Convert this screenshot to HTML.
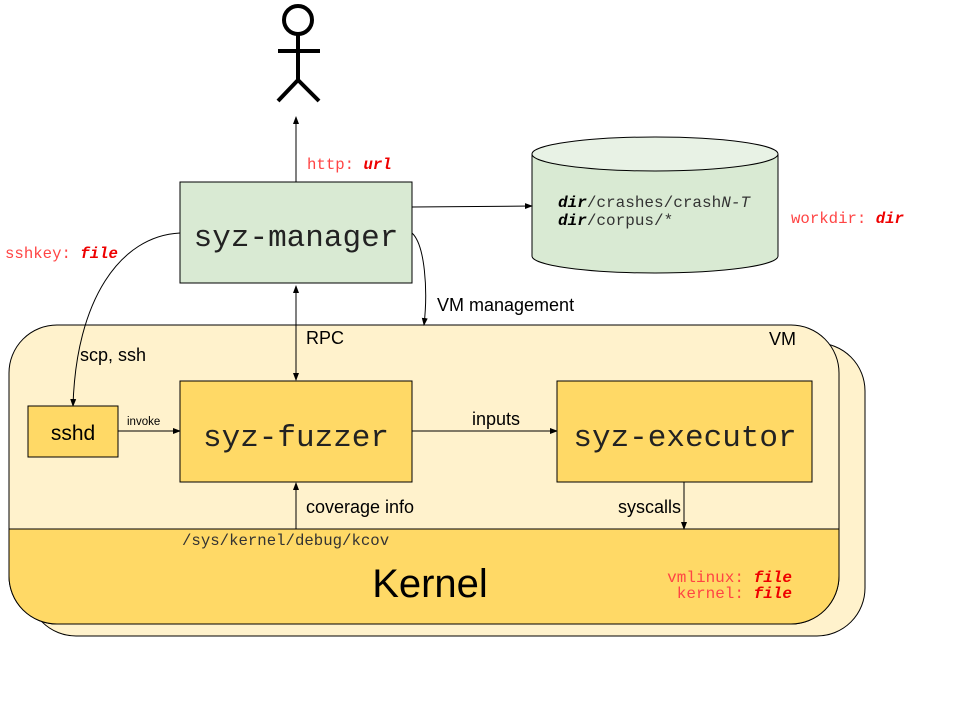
<!DOCTYPE html>
<html><head><meta charset="utf-8"><style>
html,body{margin:0;padding:0;background:#fff;}
svg{display:block;}
.m{font-family:"Liberation Mono",monospace;}
.s{font-family:"Liberation Sans",sans-serif;}
</style></head><body>
<svg width="960" height="720" viewBox="0 0 960 720" xmlns="http://www.w3.org/2000/svg">
<defs>
<marker id="a" markerWidth="8" markerHeight="8" refX="7" refY="4" orient="auto" markerUnits="userSpaceOnUse">
<path d="M0,1 L8,4 L0,7 z" fill="#000"/></marker>
<marker id="b" markerWidth="8" markerHeight="8" refX="1" refY="4" orient="auto" markerUnits="userSpaceOnUse">
<path d="M8,1 L0,4 L8,7 z" fill="#000"/></marker>
</defs>
<g stroke="#000" stroke-width="4" fill="none">
<circle cx="298" cy="20" r="14" fill="#fff"/>
<line x1="298" y1="34" x2="298" y2="80"/>
<line x1="278" y1="51" x2="320" y2="51"/>
<line x1="298" y1="80" x2="278" y2="101"/>
<line x1="298" y1="80" x2="319" y2="101"/>
</g>
<line x1="296" y1="182" x2="296" y2="117" stroke="#000" marker-end="url(#a)"/>
<text x="307" y="169" class="m" font-size="15.7" fill="#f44"><tspan>http: </tspan><tspan font-weight="bold" font-style="italic" fill="#e00">url</tspan></text>

<rect x="28" y="343" width="837" height="293" rx="48" fill="#fff2cc" stroke="#000"/>
<rect x="9" y="325" width="830" height="299" rx="48" fill="#fff2cc" stroke="#000"/>
<path d="M9,529 L839,529 L839,576 A48,48 0 0 1 791,624 L57,624 A48,48 0 0 1 9,576 Z" fill="#ffd966" stroke="#000"/>
<text x="769" y="345" class="s" font-size="18" fill="#000">VM</text>

<rect x="180" y="182" width="232" height="101" fill="#d9ead3" stroke="#000"/>
<text x="296" y="246" class="m" font-size="31" text-anchor="middle" fill="#222">syz-manager</text>

<path d="M532,154 L532,256 A123,17 0 0 0 778,256 L778,154" fill="#d9ead3" stroke="#000"/>
<ellipse cx="655" cy="154" rx="123" ry="17" fill="#e8f2e5" stroke="#000"/>
<text x="558" y="207" class="m" font-size="16" fill="#333"><tspan font-weight="bold" font-style="italic" fill="#000">dir</tspan>/crashes/crash<tspan font-style="italic">N-T</tspan></text>
<text x="558" y="225" class="m" font-size="16" fill="#333"><tspan font-weight="bold" font-style="italic" fill="#000">dir</tspan>/corpus/*</text>
<line x1="412" y1="207" x2="532" y2="206" stroke="#000" marker-end="url(#a)"/>
<text x="791" y="223" class="m" font-size="15.7" fill="#f44">workdir: <tspan font-weight="bold" font-style="italic" fill="#e00">dir</tspan></text>
<text x="5" y="258" class="m" font-size="15.7" fill="#f44">sshkey: <tspan font-weight="bold" font-style="italic" fill="#e00">file</tspan></text>

<path d="M180,233 C120,236 76,300 73,406" fill="none" stroke="#000" marker-end="url(#a)"/>
<text x="80" y="361" class="s" font-size="18">scp, ssh</text>
<path d="M412,233 C425,245 428,290 424,325" fill="none" stroke="#000" marker-end="url(#a)"/>
<text x="437" y="311" class="s" font-size="18">VM management</text>
<line x1="296" y1="286" x2="296" y2="380" stroke="#000" marker-start="url(#b)" marker-end="url(#a)"/>
<text x="306" y="344" class="s" font-size="18">RPC</text>

<rect x="28" y="406" width="90" height="51" fill="#ffd966" stroke="#000"/>
<text x="73" y="440" class="s" font-size="21" text-anchor="middle">sshd</text>
<line x1="118" y1="431" x2="180" y2="431" stroke="#000" marker-end="url(#a)"/>
<text x="127" y="425" class="s" font-size="11.5">invoke</text>

<rect x="180" y="381" width="232" height="101" fill="#ffd966" stroke="#000"/>
<text x="296" y="446" class="m" font-size="31" text-anchor="middle" fill="#222">syz-fuzzer</text>
<line x1="412" y1="431" x2="557" y2="431" stroke="#000" marker-end="url(#a)"/>
<text x="472" y="425" class="s" font-size="18">inputs</text>

<rect x="557" y="381" width="255" height="101" fill="#ffd966" stroke="#000"/>
<text x="685" y="446" class="m" font-size="31" text-anchor="middle" fill="#222">syz-executor</text>
<line x1="684" y1="482" x2="684" y2="529" stroke="#000" marker-end="url(#a)"/>
<text x="618" y="513" class="s" font-size="18">syscalls</text>

<line x1="296" y1="529" x2="296" y2="483" stroke="#000" marker-end="url(#a)"/>
<text x="306" y="513" class="s" font-size="18">coverage info</text>
<text x="182" y="545" class="m" font-size="15.7" fill="#333">/sys/kernel/debug/kcov</text>

<text x="430" y="597" class="s" font-size="40" text-anchor="middle">Kernel</text>
<text x="792" y="582" class="m" font-size="16" fill="#f44" text-anchor="end">vmlinux: <tspan font-weight="bold" font-style="italic" fill="#e00">file</tspan></text>
<text x="792" y="598" class="m" font-size="16" fill="#f44" text-anchor="end">kernel: <tspan font-weight="bold" font-style="italic" fill="#e00">file</tspan></text>
</svg>
</body></html>
